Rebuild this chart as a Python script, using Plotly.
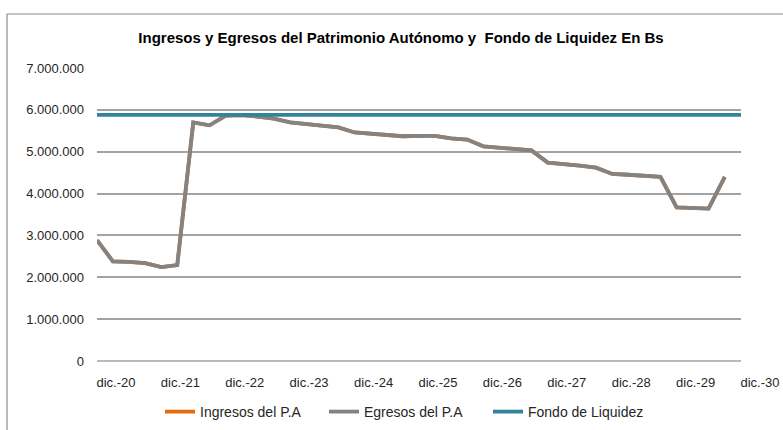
import pandas as pd
import plotly.graph_objects as go

# Quarterly observation dates (Dec 2020 onward)
fechas = pd.date_range("2020-12-31", periods=41, freq="QE")

# Patrimonio Autónomo flows, in Bs
egresos = [2890000, 2380000, 2370000, 2340000, 2245000, 2290000, 5700000, 5630000,
           5860000, 5875000, 5840000, 5790000, 5700000, 5660000, 5630000, 5580000,
           5460000, 5430000, 5400000, 5370000, 5380000, 5380000, 5320000, 5290000,
           5130000, 5100000, 5070000, 5030000, 4740000, 4710000, 4670000, 4620000,
           4470000, 4450000, 4420000, 4400000, 3670000, 3650000, 3640000, 4400000]
ingresos = [2890000, 2380000, 2370000, 2340000, 2245000, 2290000, 5700000, 5630000,
            5860000, 5875000, 5840000, 5790000, 5700000, 5660000, 5630000, 5580000,
            5460000, 5430000, 5400000, 5370000, 5380000, 5380000, 5320000, 5290000,
            5130000, 5100000, 5070000, 5030000, 4740000, 4710000, 4670000, 4620000,
            4470000, 4450000, 4420000, 4400000, 3670000, 3650000, 3640000, 4400000]
fondo_liquidez = [5880000] * 41

tick_fechas = ["2020-12-31", "2021-12-31", "2022-12-31", "2023-12-31", "2024-12-31",
               "2025-12-31", "2026-12-31", "2027-12-31", "2028-12-31", "2029-12-31",
               "2030-12-31"]
tick_textos = ["dic.-20", "dic.-21", "dic.-22", "dic.-23", "dic.-24", "dic.-25",
               "dic.-26", "dic.-27", "dic.-28", "dic.-29", "dic.-30"]

FONT = "Liberation Sans, Arial, sans-serif"

fig = go.Figure()
fig.add_trace(go.Scatter(x=fechas[:len(ingresos)], y=ingresos, mode="lines",
                         name="Ingresos del P.A",
                         line=dict(color="#E46C0A", width=3.8)))
fig.add_trace(go.Scatter(x=fechas[:len(egresos)], y=egresos, mode="lines",
                         name="Egresos del P.A",
                         line=dict(color="#838383", width=3.8)))
fig.add_trace(go.Scatter(x=fechas, y=fondo_liquidez, mode="lines",
                         name="Fondo de Liquidez",
                         line=dict(color="#31849B", width=3.8)))

W, H = 783, 430
L, R, T, B = 97, 42, 68, 69
pw, ph = W - L - R, H - T - B


def px_x(x):
    return (x - L) / pw


def px_y(y):
    return (H - B - y) / ph


fig.update_layout(
    width=W, height=H,
    margin=dict(l=L, r=R, t=T, b=B, autoexpand=False),
    paper_bgcolor="white", plot_bgcolor="white",
    separators=",.",
    font=dict(family=FONT, size=13, color="#262626"),
    title=dict(text="<b>Ingresos y Egresos del Patrimonio Autónomo y  Fondo de Liquidez En Bs</b>",
               x=401 / W, xanchor="center", y=1 - 38 / H, yanchor="middle",
               font=dict(family=FONT, size=15, color="#000000")),
    xaxis=dict(type="date", range=["2020-12-31", "2030-12-31"],
               tickvals=tick_fechas, ticktext=tick_textos, automargin=False,
               ticklabelshift=19, ticklabelstandoff=12, ticks="",
               showgrid=False, zeroline=False, showline=False,
               tickfont=dict(size=13, color="#262626")),
    yaxis=dict(range=[0, 7000000], dtick=1000000, tickformat=",d", automargin=False,
               showgrid=True, gridcolor="#A3A3A3", gridwidth=1.5,
               zeroline=False, showline=False, ticks="",
               ticklabelstandoff=12,
               tickfont=dict(size=13, color="#262626")),
    legend=dict(orientation="h", x=406 / W, xanchor="center", xref="container",
                y=1 - 412 / H, yanchor="middle", yref="container",
                font=dict(size=14, color="#262626"),
                entrywidth=119, entrywidthmode="pixels",
                itemwidth=30, tracegroupgap=0),
    shapes=[
        # baseline at zero
        dict(type="line", xref="paper", yref="paper", x0=0, x1=1, y0=0, y1=0,
             line=dict(color="#A3A3A3", width=1.5), layer="below"),
        # chart frame (top and left edges)
        dict(type="line", xref="paper", yref="paper",
             x0=px_x(7), x1=px_x(800), y0=px_y(14), y1=px_y(14),
             line=dict(color="#8C8C8C", width=1.2)),
        dict(type="line", xref="paper", yref="paper",
             x0=px_x(7), x1=px_x(7), y0=px_y(14), y1=px_y(440),
             line=dict(color="#8C8C8C", width=1.2)),
    ],
)

fig.write_html("out.html")
